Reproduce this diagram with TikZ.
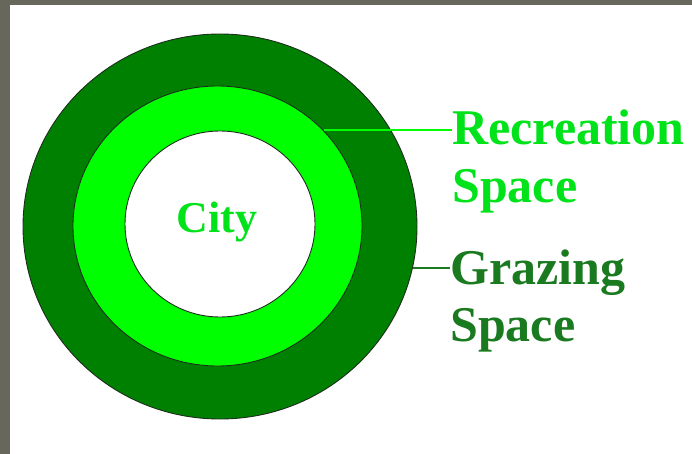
\documentclass[tikz,border=0pt]{standalone}
\usepackage{fontspec}
\setmainfont{Liberation Serif}
\usetikzlibrary{shapes.geometric}
\definecolor{Frame}{HTML}{67675B}
\definecolor{Grass}{HTML}{008000}
\definecolor{Lime}{HTML}{00FF00}
\definecolor{LimeText}{HTML}{00E31A}
\definecolor{GrassText}{HTML}{1A7A1F}
\definecolor{Rim}{HTML}{1E2E1E}
\begin{document}
\begin{tikzpicture}[
  x=1pt,y=-1pt,
  ring/.style={ellipse,draw=Rim,line width=0.9pt,inner sep=0pt},
  lbl/.style={inner sep=0pt,align=left,font=\fontsize{50}{57}\selectfont\bfseries},
  lead/.style={line width=2pt}
]
\useasboundingbox (0,0) rectangle (692,454);
\fill[white] (0,0) rectangle (692,454);
\fill[Frame] (0,0) rectangle (692,5);
\fill[Frame] (0,0) rectangle (10,454);
\node[ring,fill=Grass,minimum width=394pt,minimum height=385pt] (graze) at (220,226.5) {};
\node[ring,fill=Lime,minimum width=289pt,minimum height=280pt] (recr) at (217.5,226) {};
\node[ring,fill=white,minimum width=190pt,minimum height=186pt] (city) at (220,224) {};
\node[font=\fontsize{44}{50}\selectfont\bfseries,text=LimeText,inner sep=0pt,anchor=base] (citytxt) at (217,232) {City};
% base anchor sits on the last line
\node[lbl,text=LimeText,anchor=base west] (rectxt) at (452,202) {Recreation\\Space};
\node[lbl,text=GrassText,anchor=base west] (graztxt) at (450,341) {Grazing\\Space};
\draw[lead,Lime] (recr.42) -- (recr.42 -| rectxt.west);
\draw[lead,GrassText] (graze.-12) -- (graze.-12 -| graztxt.west);
\end{tikzpicture}
\end{document}
